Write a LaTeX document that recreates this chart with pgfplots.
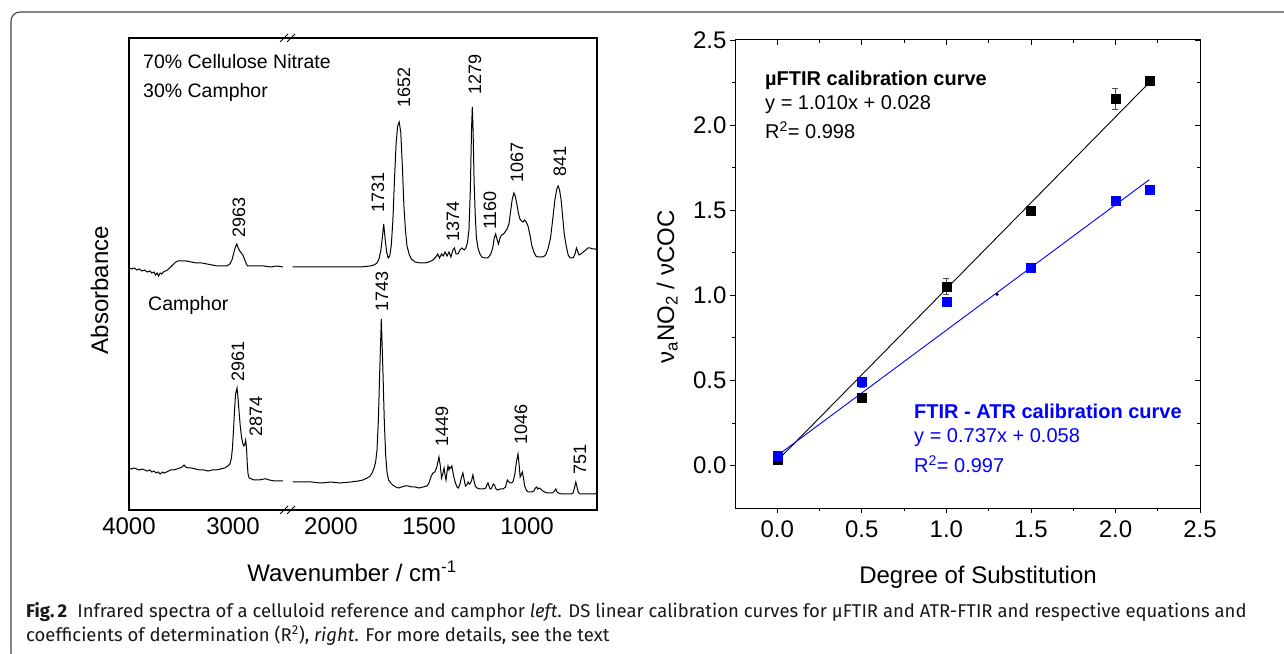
\documentclass[border=0pt]{standalone}
\usepackage{pgfplots}
\usepackage{pgfplotstable}
\pgfplotsset{compat=1.18}
\usepackage{fontspec}
\setmainfont{Liberation Sans}
\newfontfamily\capfont{Fira Sans}
\definecolor{atrblue}{RGB}{0,0,255}
\definecolor{framegray}{RGB}{70,70,70}

% ---------------- spectra (wavenumber, absorbance in plot units) ----------------
\pgfplotstableread{
wn Y
4000 242
3975 241
3950 242
3925 240
3900 241
3875 239
3850 240
3825 238
3800 239
3780 237
3760 238
3745 235
3730 237
3715 234
3700 237
3685 236
3670 238
3650 239
3630 240
3610 242
3590 244
3570 246
3550 248
3530 249
3500 249
3450 249
3400 248
3350 247
3300 247
3250 246
3200 245
3150 244
3100 244
3060 244
3030 246
3010 250
2995 256
2980 262
2963 266
2950 262
2935 259
2920 257
2905 255
2890 251
2875 247
2860 244
2820 244
2760 244
2700 244
2640 243
2580 244
2520 243
}\nitrateL

\pgfplotstableread{
wn Y
2195 243
2100 243
2000 243
1900 243
1850 243
1800 244
1780 245
1765 247
1755 251
1745 260
1738 272
1731 286
1724 272
1716 258
1708 252
1700 254
1692 265
1684 290
1676 330
1668 365
1660 384
1652 388
1644 378
1636 345
1628 305
1620 280
1612 264
1600 255
1590 251
1570 248
1546 247
1520 247
1500 248
1480 250
1465 253
1455 256
1446 252
1436 256
1428 254
1418 258
1408 254
1398 258
1388 253
1378 260
1370 262
1362 256
1352 256
1342 260
1332 262
1320 260
1312 262
1304 267
1296 280
1289 320
1283 380
1279 403
1275 380
1270 330
1264 295
1258 272
1250 262
1240 256
1230 253
1215 252
1204 252
1195 253
1185 256
1175 262
1167 272
1160 276
1152 270
1145 266
1138 272
1130 275
1120 276
1112 278
1102 281
1092 286
1084 298
1076 310
1067 317
1060 314
1052 306
1044 297
1036 291
1028 289
1020 288
1012 290
1004 288
995 284
985 275
975 264
965 258
955 254
945 253
930 253
918 253
905 255
893 261
880 272
868 292
858 310
848 321
841 324
834 320
826 310
818 293
810 276
800 264
790 255
780 252
765 252
755 256
748 262
742 259
735 255
725 256
714 258
700 260
690 262
678 262
665 261
653 261
643 260
}\nitrateR

\pgfplotstableread{
wn Y
4000 42
3975 41
3950 42
3925 41
3900 40
3875 41
3850 40
3825 39
3800 40
3780 38
3760 39
3740 37
3720 38
3700 36
3680 38
3660 37
3640 38
3620 39
3600 40
3570 40
3540 41
3510 42
3490 43
3470 45
3455 43
3430 42
3400 42
3360 41
3320 40
3280 40
3240 39
3200 40
3160 40
3120 41
3080 42
3050 44
3030 46
3015 52
3005 62
2995 80
2985 100
2975 116
2961 122
2950 110
2940 96
2930 84
2918 73
2905 66
2895 64
2886 66
2878 70
2870 62
2862 45
2855 36
2845 32
2820 31
2800 30
2750 30
2700 31
2680 31
2650 30
2600 29
2560 29
2520 29
}\camphorL

\pgfplotstableread{
wn Y
2195 28
2150 28
2100 28
2050 27
2000 28
1954 27
1900 28
1860 29
1837 30
1815 32
1800 34
1790 37
1780 42
1772 48
1765 60
1758 90
1751 140
1743 191
1735 140
1728 90
1721 55
1714 38
1706 30
1695 27
1685 25
1670 23
1655 22
1640 23
1622 24
1605 24
1590 23
1570 23
1550 22
1530 23
1510 24
1500 27
1490 33
1480 37
1470 38
1460 43
1449 53
1442 44
1436 32
1430 36
1423 42
1418 35
1413 30
1408 38
1403 44
1398 40
1393 43
1388 42
1383 44
1378 38
1372 32
1365 27
1357 23
1350 22
1342 26
1335 32
1327 37
1320 30
1314 24
1307 25
1300 28
1294 26
1288 27
1282 30
1276 35
1270 29
1264 24
1255 22
1240 21
1225 21
1210 22
1203 26
1199 27
1194 24
1188 21
1180 22
1172 26
1166 25
1158 21
1150 20
1135 21
1122 21
1110 23
1100 30
1092 28
1085 27
1078 27
1070 29
1062 36
1054 48
1046 56
1040 45
1035 33
1030 35
1024 38
1018 32
1012 24
1004 20
995 18
985 18
975 18
965 19
957 22
950 23
945 21
938 22
930 21
920 19
910 18
898 17
885 17
870 17
860 19
853 21
847 18
840 17
825 16
805 16
790 16
775 16
765 17
758 22
751 28
745 23
739 18
730 16
715 16
700 16
685 16
670 16
655 16
643 17
}\camphorR

% ---------------- calibration data ----------------
\pgfplotstableread{
x y e
0 0.035 0.015
0.5 0.40 0.02
1.0 1.053 0.045
1.5 1.497 0.02
2.0 2.155 0.06
2.2 2.263 0.01
}\mufitr

\pgfplotstableread{
x y e
0 0.06 0.01
0.5 0.49 0.03
1.0 0.965 0.02
1.5 1.16 0.01
2.0 1.555 0.015
2.2 1.618 0.015
}\atr

\pgfplotsset{
  specaxis/.style={
    scale only axis, anchor=south west, height=472pt,
    x dir=reverse, ymin=0, ymax=472, ytick=\empty,
    axis line style={draw=none},
    major tick length=0pt, minor tick length=0pt,
    xtick pos=bottom,
    tick label style={font=\fontsize{24}{24}\selectfont},
    xticklabel style={yshift=-4pt},
    /pgf/number format/assume math mode=true,
    clip mode=individual,
  },
  calib/.style={
    scale only axis, anchor=south west, at={(735pt,145pt)},
    width=465pt, height=468pt,
    xmin=-0.25, xmax=2.5, ymin=-0.25, ymax=2.5,
    xtick={0,0.5,1,1.5,2,2.5}, ytick={0,0.5,1,1.5,2,2.5},
    minor tick num=1,
    major tick length=5pt, minor tick length=3pt,
    every tick/.style={black, line width=0.8pt},
    tick label style={font=\fontsize{24}{24}\selectfont},
    xticklabel style={yshift=-4pt},
    /pgf/number format/assume math mode=true,
    /pgf/number format/fixed, /pgf/number format/fixed zerofill,
    /pgf/number format/precision=1,
    clip=false,
  },
}

\begin{document}
\begin{tikzpicture}[x=1pt,y=1pt]
\useasboundingbox (0,0) rectangle (1284,653);
\fill[white] (0,0) rectangle (1284,653);
\draw[framegray, line width=1.1pt, rounded corners=9pt] (11,-20) -- (11,641) -- (1300,641);

% ===== left panel, segment 4000-2470 =====
\begin{axis}[specaxis, at={(129pt,143pt)}, width=159pt,
  xmin=2471, xmax=4000, xtick={4000,3000}, xticklabels={4000,3000}]
\addplot[black, line width=1pt] table[x=wn,y=Y] {\nitrateL};
\addplot[black, line width=1pt] table[x=wn,y=Y] {\camphorL};
\draw[black, line width=1.1pt] (rel axis cs:1,0) -- (rel axis cs:0,0) -- (rel axis cs:0,1) -- (rel axis cs:1,1);
\begin{scope}[every node/.style={rotate=90, anchor=west, inner sep=0pt, font=\fontsize{18}{18}\selectfont}]
\node at (axis cs:2942,272) {2963};
\node at (axis cs:2952,128) {2961};
\node at (axis cs:2779,73) {2874};
\end{scope}
\end{axis}

% ===== left panel, segment 2220-643 =====
\begin{axis}[specaxis, at={(288pt,143pt)}, width=309pt,
  xmin=643, xmax=2219, xtick={2000,1500,1000}, xticklabels={2000,1500,1000}]
\addplot[black, line width=1pt] table[x=wn,y=Y] {\nitrateR};
\addplot[black, line width=1pt] table[x=wn,y=Y] {\camphorR};
\draw[black, line width=1.1pt] (rel axis cs:0,0) -- (rel axis cs:1,0) -- (rel axis cs:1,1) -- (rel axis cs:0,1);
\begin{scope}[every node/.style={rotate=90, anchor=west, inner sep=0pt, font=\fontsize{18}{18}\selectfont}]
\node at (axis cs:1760,297) {1731};
\node at (axis cs:1628,402) {1652};
\node at (axis cs:1378,268) {1374};
\node at (axis cs:1265,415) {1279};
\node at (axis cs:1189,280) {1160};
\node at (axis cs:1051,327) {1067};
\node at (axis cs:832,333) {841};
\node at (axis cs:1740,198) {1743};
\node at (axis cs:1434,63) {1449};
\node at (axis cs:1031,65) {1046};
\node at (axis cs:730,35) {751};
\end{scope}
\end{axis}

% axis break marks
\foreach \yy in {143,615} {
  \draw[black, line width=0.9pt] (280,\yy-4) -- (288,\yy+4);
  \draw[black, line width=0.9pt] (287,\yy-4) -- (295,\yy+4);
}

% left panel texts
\begin{scope}[every node/.style={inner sep=0pt, font=\fontsize{19.5}{19.5}\selectfont}]
\node[anchor=base west] at (143,584) {70\% Cellulose Nitrate};
\node[anchor=base west] at (143,555) {30\% Camphor};
\node[anchor=base west] at (148,342) {Camphor};
\end{scope}
\node[anchor=base, inner sep=0pt, font=\fontsize{24}{24}\selectfont] at (352,71) {Wavenumber / cm\textsuperscript{-1}};
\node[anchor=base, rotate=90, inner sep=0pt, font=\fontsize{24}{24}\selectfont] at (108,363) {Absorbance};

% ===== right panel =====
\begin{axis}[calib, xtick pos=bottom, ytick pos=left, tick align=outside,
  axis line style={black, line width=1pt}]
\addplot[black, line width=0.9pt] coordinates {(0,0.028) (2.2,2.250)};
\addplot[atrblue, line width=0.9pt] coordinates {(0,0.058) (2.2,1.679)};
\addplot[only marks, mark=square*, mark size=4.5pt, black,
  error bars/.cd, y dir=both, y explicit,
  error bar style={black!70, line width=0.6pt},
  error mark options={rotate=90, mark size=3pt, black!70, line width=0.6pt}]
  table[x=x, y=y, y error=e] {\mufitr};
\addplot[only marks, mark=square*, mark size=4.5pt, atrblue,
  error bars/.cd, y dir=both, y explicit,
  error bar style={atrblue!70, line width=0.6pt},
  error mark options={rotate=90, mark size=3pt, atrblue!70, line width=0.6pt}]
  table[x=x, y=y, y error=e] {\atr};
\addplot[only marks, mark=*, mark size=1.3pt, black] coordinates {(1.30,1.005)};
\end{axis}
\begin{axis}[calib, xtick pos=top, ytick pos=right, tick align=inside,
  xticklabels={}, yticklabels={}, axis line style={draw=none}]
\end{axis}

% right panel texts
\begin{scope}[every node/.style={inner sep=0pt, anchor=base west, font=\fontsize{20}{20}\selectfont}]
\node at (765,567) {\textbf{µFTIR calibration curve}};
\node at (765,543) {y = 1.010x + 0.028};
\node at (765,514) {R\textsuperscript{2}= 0.998};
\node[text=atrblue] at (914,234) {\textbf{FTIR - ATR calibration curve}};
\node[text=atrblue] at (914,210) {y = 0.737x + 0.058};
\node[text=atrblue] at (914,180) {R\textsuperscript{2}= 0.997};
\end{scope}
\node[anchor=base, inner sep=0pt, font=\fontsize{24}{24}\selectfont] at (978,70) {Degree of Substitution};
\node[anchor=base, rotate=90, inner sep=0pt, font=\fontsize{24}{24}\selectfont] at (674,366) {ν\textsubscript{a}NO\textsubscript{2} / νCOC};

% caption
\begin{scope}[every node/.style={inner sep=0pt, anchor=base west, font=\capfont\fontsize{18.5}{21}\selectfont, text=black!90}]
\node at (26,36) {\textbf{Fig.\,2}\hspace{0.55em}Infrared spectra of a celluloid reference and camphor \textit{left}. DS linear calibration curves for µFTIR and ATR-FTIR and respective equations and};
\node at (26,12) {coefficients of determination (R\textsuperscript{2}), \textit{right}. For more details, see the text};
\end{scope}
\end{tikzpicture}
\end{document}
